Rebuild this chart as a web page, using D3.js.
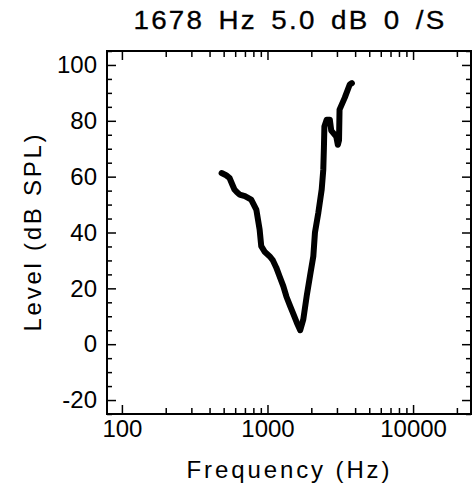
<!DOCTYPE html>
<html>
<head>
<meta charset="utf-8">
<script src="https://cdn.jsdelivr.net/npm/d3@7"></script>
<style>
    body { margin: 0; background: #fff; }
    svg text { font-family: 'Liberation Sans', Arial, sans-serif; fill: #000; }
</style>
</head>
<body>
<div id="chart"></div>
<script>
// data
const freqs = [484, 520, 548, 575, 593, 615, 643, 700, 773, 838, 883, 906, 960, 1033, 1090,
    1148, 1208, 1284, 1350, 1429, 1500, 1588, 1678, 1762, 1860, 1959, 2065, 2119, 2235,
    2357, 2417, 2440, 2460, 2550, 2680, 2742, 2967, 3044, 3100, 3126, 3396, 3673, 3800];
const levels = [61.3, 60.5, 59.6, 57, 55.4, 54.5, 53.6, 53, 51.8, 48.2, 41.1, 35.1, 33, 31.5, 30,
    27.5, 24.4, 20.8, 17, 13.7, 11, 7.8, 5.0, 8.9, 17.3, 24.4, 31.5, 40, 47.1,
    55.4, 62.5, 70, 78, 80.4, 80.4, 76.5, 74.4, 71.4, 73, 84, 88.3, 93, 93.5];

const xMajor = [100, 1000, 10000];
const xMinor = [200, 300, 400, 500, 600, 700, 800, 900, 2000, 3000, 4000, 5000, 6000, 7000, 8000, 9000, 20000];
const yMajor = [-20, 0, 20, 40, 60, 80, 100];
const yMinor = [-25, -15, -10, -5, 5, 10, 15, 25, 30, 35, 45, 50, 55, 65, 70, 75, 85, 90, 95, 105];

const titleText = '1678 Hz 5.0 dB 0 /S';
const xLabelText = 'Frequency (Hz)';
const yLabelText = 'Level (dB SPL)';

const size = { width: 472, height: 487 };
const plot = { left: 107, right: 471, top: 51, bottom: 414 };

const svg = d3.select('#chart')
    .append('svg')
    .attr('width', size.width)
    .attr('height', size.height);

const xScale = d3.scaleLog()
    .domain([79, 25000])
    .range([plot.left, plot.right]);
const yScale = d3.scaleLinear()
    .domain([-25, 105])
    .range([plot.bottom, plot.top]);

// axes, ticks pointing inward on all four sides
function drawAxis(axis, tx, ty, showLabels) {
    const g = svg.append('g')
        .attr('transform', 'translate(' + tx + ',' + ty + ')')
        .call(axis);
    g.select('.domain').remove();
    g.selectAll('line').attr('stroke', '#000').attr('stroke-width', 1.5);
    g.selectAll('text').style('font-size', '24px');
    if (!showLabels) g.selectAll('text').remove();
    return g;
}

// plain hyphen for negatives, like the original
const fmt = d => String(d);
drawAxis(d3.axisBottom(xScale).tickValues(xMajor).tickSize(-9).tickPadding(6).tickFormat(fmt), 0, plot.bottom, true);
drawAxis(d3.axisBottom(xScale).tickValues(xMinor).tickSize(-6).tickFormat(''), 0, plot.bottom, false);
drawAxis(d3.axisTop(xScale).tickValues(xMajor).tickSize(-9).tickFormat(''), 0, plot.top, false);
drawAxis(d3.axisTop(xScale).tickValues(xMinor).tickSize(-6).tickFormat(''), 0, plot.top, false);

drawAxis(d3.axisLeft(yScale).tickValues(yMajor).tickSize(-9).tickPadding(10).tickFormat(fmt), plot.left, 0, true);
drawAxis(d3.axisLeft(yScale).tickValues(yMinor).tickSize(-5).tickFormat(''), plot.left, 0, false);
drawAxis(d3.axisRight(yScale).tickValues(yMajor).tickSize(-9).tickFormat(''), plot.right, 0, false);
drawAxis(d3.axisRight(yScale).tickValues(yMinor).tickSize(-5).tickFormat(''), plot.right, 0, false);

// frame
svg.append('rect')
    .attr('x', plot.left)
    .attr('y', plot.top)
    .attr('width', plot.right - plot.left)
    .attr('height', plot.bottom - plot.top)
    .attr('fill', 'none')
    .attr('stroke', '#000')
    .attr('stroke-width', 2);

// tuning curve
const points = freqs.map((f, i) => [f, levels[i]]);
const line = d3.line()
    .x(d => xScale(d[0]))
    .y(d => yScale(d[1]));
svg.append('path')
    .datum(points)
    .attr('d', line)
    .attr('fill', 'none')
    .attr('stroke', '#000')
    .attr('stroke-width', 6)
    .attr('stroke-linejoin', 'round')
    .attr('stroke-linecap', 'round');

// title and axis labels
svg.append('text')
    .attr('x', 290)
    .attr('y', 29)
    .attr('text-anchor', 'middle')
    .attr('textLength', 313)
    .attr('lengthAdjust', 'spacingAndGlyphs')
    .style('font-size', '25px')
    .style('word-spacing', '4px')
    .style('letter-spacing', '2px')
    .style('stroke', '#000')
    .style('stroke-width', 0.3)
    .text(titleText);

svg.append('text')
    .attr('x', 288)
    .attr('y', 478)
    .attr('text-anchor', 'middle')
    .attr('textLength', 203)
    .attr('lengthAdjust', 'spacing')
    .style('font-size', '24px')
    .text(xLabelText);

svg.append('text')
    .attr('transform', 'translate(41,233) rotate(-90)')
    .attr('text-anchor', 'middle')
    .attr('textLength', 197)
    .attr('lengthAdjust', 'spacing')
    .style('font-size', '24px')
    .text(yLabelText);
</script>
</body>
</html>
